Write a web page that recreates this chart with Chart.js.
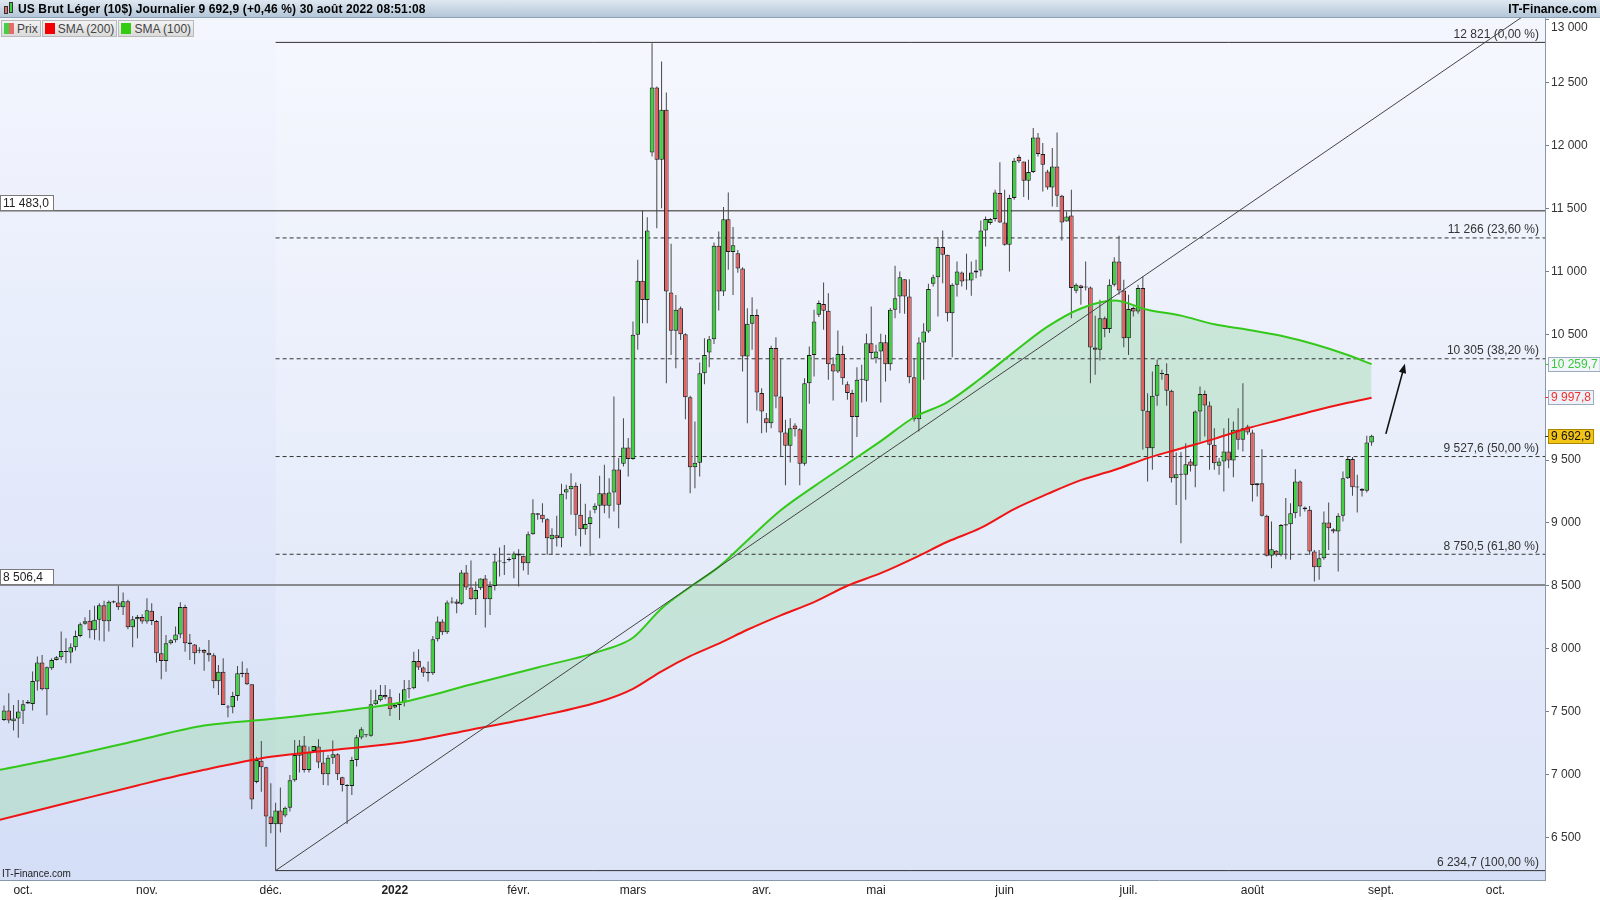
<!DOCTYPE html>
<html>
<head>
<meta charset="utf-8">
<script src="https://cdn.jsdelivr.net/npm/chart.js@4.4.0/dist/chart.umd.min.js"></script>
<style>
  html, body { margin: 0; padding: 0; background: #fff; }
  #wrap { position: relative; width: 1600px; height: 900px; overflow: hidden; font-family: "Liberation Sans", Arial, sans-serif; }
  #hdr { position: absolute; left: 0; top: 0; width: 1600px; height: 18px; box-sizing: border-box;
         background: linear-gradient(#dfe8f1, #b3c6d8); border-bottom: 1px solid #8ea2b6;
         font-weight: bold; font-size: 12px; line-height: 19px; color: #000; }
  #hdr .t { position: absolute; left: 18px; top: 0; letter-spacing: 0.12px; }
  #hdr .r { position: absolute; right: 3px; top: 0; letter-spacing: 0.1px; }
  #hdr .ic { position: absolute; top: 4px; width: 4px; height: 9px; box-sizing: border-box; border: 1px solid #333; }
  #leg { position: absolute; left: 1px; top: 20px; height: 17px; display: flex; font-size: 12px; color: #444; }
  #leg div { height: 17px; box-sizing: border-box; border: 1px solid #b9b9b9; background: linear-gradient(#f2f2f2, #dadada);
             display: flex; align-items: center; padding: 0 2px 0 2px; margin-right: 1px; }
  #leg span.sq { display: inline-block; width: 10px; height: 11px; margin-right: 3px; }
  canvas { position: absolute; left: 0; top: 0; }
</style>
</head>
<body>
<div id="wrap">
  <canvas id="c" width="1600" height="900"></canvas>
  <div id="hdr">
    <span class="ic" style="left:4px;background:#e86a6a;top:6px;height:8px"></span>
    <span class="ic" style="left:9px;background:#44d044;top:2px;height:11px"></span>
    <span class="t">US Brut Léger (10$) Journalier 9 692,9 (+0,46 %) 30 août 2022 08:51:08</span>
    <span class="r">IT-Finance.com</span>
  </div>
  <div id="leg">
    <div><span class="sq" style="width:5px;margin-right:0;background:#44d044"></span><span class="sq" style="width:5px;background:#e86a6a"></span>Prix</div>
    <div><span class="sq" style="background:#f00000"></span>SMA (200)</div>
    <div><span class="sq" style="background:#33cc11"></span>SMA (100)</div>
  </div>
</div>
<script>
// month ticks (candle index of first session of each month)
const monthIdx = [4, 30, 56, 82, 108, 132, 159, 183, 210, 236, 262, 289, 313];
const monthLabels = ['oct.', 'nov.', 'déc.', '2022', 'févr.', 'mars', 'avr.', 'mai', 'juin', 'juil.', 'août', 'sept.', 'oct.'];
const priceTicks = [6500, 7000, 7500, 8000, 8500, 9000, 9500, 10000, 10500, 11000, 11500, 12000, 12500, 13000];

// daily candles, late sept. 2021 -> 30 août 2022
const openP = [
  7433,7507,7423,7444,7505,7576,7560,7738,7889,7677,
  7844,7910,7932,7982,7969,8011,8101,8197,8221,8146,
  8229,8345,8218,8367,8367,8329,8377,8170,8234,8252,
  8215,8302,8220,7963,7902,8043,8066,8112,8332,8048,
  8032,7990,7990,7968,7947,7740,7817,7539,7533,7624,
  7809,7809,7716,6939,7109,7056,6664,6603,6712,6672,
  6735,6953,7149,7229,7035,7186,7221,7094,7001,7133,
  7160,6977,6916,6908,7115,7293,7311,7308,7558,7589,
  7632,7613,7531,7552,7571,7677,7685,7902,7849,7814,
  7804,8074,8215,8130,8374,8374,8356,8605,8486,8393,
  8480,8557,8393,8499,8692,8684,8705,8710,8756,8738,
  8679,8910,9064,9064,9029,8870,8902,8878,9241,9268,
  9295,9064,8950,8992,9104,9136,9236,9136,9241,9424,
  9470,9600,9507,10496,10926,10773,11946,12463,11887,12285,
  10832,10527,10707,10500,9999,9442,9479,10190,10354,10461,
  11203,10840,11415,11155,11145,11023,10323,10583,10654,10032,
  9833,9793,10390,10005,9719,9613,9775,9745,9470,10111,
  10336,10655,10740,10687,10262,10204,10342,10103,10032,9841,
  10138,10130,10428,10310,10363,10437,10262,10694,10800,10938,
  10800,10159,9824,10435,10522,10901,10954,11193,11132,10668,
  10893,10991,10928,10928,10991,11007,11326,11384,11416,11623,
  11389,11211,11583,11909,11874,11721,11790,12065,11933,11795,
  11668,11835,11601,11397,11445,10846,10888,10872,10872,10395,
  10376,10628,10541,10893,11079,10848,10469,10708,10681,10867,
  9891,9594,10011,10191,10183,10050,9355,9382,9382,9488,
  9454,9886,10024,9934,9621,9454,9488,9568,9496,9740,
  9661,9767,9719,9300,9316,9056,8738,8778,8746,8979,
  8990,9077,9329,9122,9104,8772,8647,8719,9003,8950,
  8931,9056,9355,9507,9282,9271,9255,9639
];
const highP = [
  7547,7645,7552,7592,7592,7592,7818,7937,7950,7857,
  7924,7942,8136,8083,8043,8144,8207,8250,8308,8340,
  8361,8380,8383,8383,8499,8446,8388,8260,8268,8274,
  8401,8361,8228,8260,8109,8074,8175,8369,8348,8117,
  8037,8011,7995,8069,7963,7870,7923,7552,7658,7862,
  7897,7844,7716,7141,7266,7061,6929,6775,6895,6745,
  6995,7274,7274,7306,7221,7226,7279,7181,7155,7269,
  7168,6982,6924,7141,7314,7375,7319,7672,7672,7711,
  7711,7677,7565,7645,7751,7751,7976,7995,7857,7897,
  8101,8255,8234,8382,8409,8393,8626,8666,8700,8533,
  8557,8586,8533,8753,8804,8825,8727,8772,8790,8738,
  8931,9188,9077,9157,9037,8958,9056,9311,9303,9395,
  9321,9311,9152,9098,9157,9374,9462,9355,10005,9515,
  9833,9674,10602,11093,11484,11431,12815,12470,12670,12423,
  11219,10813,10720,10508,10010,9806,10275,10469,10487,11230,
  11317,11511,11627,11352,11170,11033,10707,10795,10699,10071,
  9873,10408,10477,10310,9820,9833,9793,9753,10151,10403,
  10695,10769,10912,10827,10318,10530,10408,10124,10058,10238,
  10257,10504,10721,10416,10504,10496,10708,11044,11000,10938,
  10938,10310,10477,10588,10901,10973,11273,11325,11132,10906,
  11079,10999,11140,11079,11092,11405,11437,11424,11649,11867,
  11649,11609,11901,11927,11874,11888,12140,12100,12020,11808,
  11981,12105,11609,11477,11649,10906,10893,11079,10880,10647,
  10774,10641,10938,11113,11283,10933,10814,10721,10893,10960,
  10031,10204,10300,10217,10270,10058,9560,9563,9634,9507,
  9894,10085,10053,9966,9753,9515,9753,9833,9806,9912,
  10111,9780,9740,9316,9586,9064,9011,8785,8992,9197,
  9157,9427,9337,9130,9135,8785,8785,9090,9162,8958,
  9077,9409,9528,9523,9382,9276,9692,9700
];
const lowP = [
  7425,7407,7348,7292,7401,7560,7507,7666,7666,7470,
  7831,7905,7910,7884,7884,7985,8091,8189,8083,8070,
  8064,8056,8136,8361,8308,8268,8154,8011,8083,8197,
  8197,8188,7889,7756,7817,8032,8048,8082,7976,7910,
  7876,7963,7825,7897,7685,7632,7552,7454,7486,7586,
  7772,7711,6722,6929,6862,6425,6531,6235,6537,6660,
  6704,6942,7014,7014,7014,7178,7048,6916,6911,7083,
  6956,6863,6605,6836,7062,7279,7295,7300,7552,7579,
  7597,7465,7526,7432,7539,7605,7677,7830,7777,7738,
  7791,8056,8109,8117,8356,8281,8348,8467,8388,8268,
  8467,8167,8268,8462,8573,8586,8692,8560,8494,8621,
  8587,8905,9024,9003,8746,8746,8812,8807,9188,9064,
  8897,8812,8905,8738,9077,8878,9077,9037,9090,8958,
  9449,9369,9502,10377,10588,10588,11914,11343,11503,10110,
  10336,10230,10455,9824,9235,9275,9368,10103,10238,10423,
  10688,10805,11012,10813,10990,10203,9792,10376,9893,9713,
  9718,9753,9912,9528,9300,9480,9687,9300,9454,9947,
  10164,10637,10536,10138,9973,10191,10098,9979,9515,9682,
  9958,9966,10310,10270,9958,10124,10212,10628,10668,10663,
  10111,9806,9726,10138,10509,10880,10641,10906,10602,10318,
  10800,10880,10853,10806,10946,10960,11198,11371,11397,11384,
  11203,10999,11570,11861,11591,11570,11782,11914,11636,11649,
  11516,11511,11246,11397,10628,10827,10734,10848,10111,10177,
  10291,10477,10509,10880,10814,10397,10336,10641,10663,9581,
  9329,9422,9931,10138,9931,9321,9143,8838,9183,9409,
  9284,9647,9687,9422,9422,9382,9250,9435,9363,9581,
  9568,9700,9170,9210,9050,8732,8640,8732,8732,8711,
  8706,9037,9051,9090,8746,8533,8547,8706,8785,8918,
  8613,9011,9348,9215,9082,9210,9242,9613
];
const closeP = [
  7507,7428,7444,7499,7558,7563,7743,7889,7677,7852,
  7910,7932,7982,7974,8011,8101,8194,8218,8146,8229,
  8345,8218,8372,8377,8329,8377,8170,8234,8252,8215,
  8305,8220,7963,7902,8043,8066,8112,8332,8043,8037,
  7963,7984,7968,7947,7740,7817,7552,7531,7624,7804,
  7798,7716,6801,7114,7056,6664,6605,6712,6603,6735,
  6953,7155,7229,7035,7176,7226,7094,7001,7133,7160,
  7001,6916,6908,7115,7295,7359,7311,7558,7589,7632,
  7613,7518,7552,7560,7677,7685,7902,7849,7809,7804,
  8074,8215,8130,8366,8366,8356,8605,8486,8393,8467,
  8557,8393,8499,8692,8692,8679,8710,8756,8740,8679,
  8910,9077,9077,9029,8878,8905,8878,9231,9268,9295,
  9064,8950,8992,9045,9136,9236,9136,9241,9424,9144,
  9600,9507,10496,10926,10773,11325,12463,11887,12285,10840,
  10527,10694,10500,9999,9442,9479,10190,10336,10461,11203,
  10840,11415,11155,11208,11023,10323,10583,10654,10036,9886,
  9793,10390,10005,9719,9613,9753,9745,9470,10111,10336,
  10602,10748,10687,10262,10204,10342,10151,10032,9841,10138,
  10138,10428,10350,10363,10437,10262,10694,10787,10954,10800,
  10159,9824,10435,10522,10859,10954,11193,11132,10668,10893,
  10999,10920,10928,10991,11007,11326,11416,11416,11628,11389,
  11211,11583,11880,11875,11721,11790,12065,11933,11848,11668,
  11835,11601,11389,11437,10867,10893,10867,10872,10395,10376,
  10628,10541,10893,11079,10848,10469,10700,10681,10867,9891,
  9594,10011,10257,10183,10050,9355,9387,9382,9467,9454,
  9886,10024,9934,9621,9475,9488,9568,9496,9740,9661,
  9753,9719,9302,9316,9056,8738,8791,8746,8984,8990,
  9077,9329,9130,9109,8772,8647,8719,9003,8958,8931,
  9056,9355,9507,9284,9282,9255,9639,9693
];

// moving averages at these candle positions
const smaIdx = [-1, 14, 28, 42, 56, 70, 84, 98, 112, 126, 132, 138, 144, 150, 156, 163, 170, 177, 184, 191, 198, 205, 212, 219, 226, 233, 240, 247, 254, 261, 268, 275, 282, 287];
const sma100 = [7035, 7150, 7270, 7388, 7440, 7500, 7578, 7715, 7850, 7990, 8087, 8320, 8490, 8650, 8860, 9100, 9290, 9470, 9650, 9840, 9960, 10150, 10360, 10560, 10705, 10768, 10695, 10648, 10579, 10536, 10488, 10420, 10335, 10262];
const sma200 = [6638, 6780, 6912, 7036, 7140, 7198, 7255, 7355, 7460, 7590, 7680, 7820, 7940, 8040, 8150, 8265, 8370, 8500, 8600, 8720, 8850, 8960, 9110, 9230, 9340, 9420, 9515, 9592, 9668, 9752, 9822, 9892, 9955, 9995];

// retracement
const fibStart = 57;
const fibLevels = [12821, 11266, 10305, 9527.6, 8750.5, 6234.7];
const fibLabels = ['12 821 (0,00 %)', '11 266 (23,60 %)', '10 305 (38,20 %)', '9 527,6 (50,00 %)', '8 750,5 (61,80 %)', '6 234,7 (100,00 %)'];
const fibDashed = [false, true, true, true, true, false];
const hLevels = [11483.0, 8506.4];
const hLabels = ['11 483,0', '8 506,4'];
const trendLine = [[57, 6234.7], [330, 13319]];
const arrowPts = [[290, 9708], [294, 10265]];
const lastVals = [10259.7, 9997.8, 9692.9];
const lastLabels = ['10 259,7', '9 997,8', '9 692,9'];

const FONT = '"Liberation Sans", Arial, sans-serif';
const X_MIN = -0.84, X_MAX = 323.4, Y_MIN = 6160, Y_MAX = 13015;

function fmt(v) { return String(v).replace(/\B(?=(\d{3})+(?!\d))/g, ' '); }

const idx = closeP.map((_, i) => i);
const wicks = idx.map(i => ({ x: i, y: [lowP[i], highP[i]] }));
const bodies = idx.map(i => ({ x: i, y: [openP[i], closeP[i]] }));
const bodyColors = idx.map(i => closeP[i] >= openP[i] ? '#3cd23c' : '#e65f5f');

const datasets = [
  { type: 'line', label: 'SMA (100)', data: smaIdx.map((x, i) => ({ x, y: sma100[i] })), borderColor: '#33c81a', borderWidth: 2,
    pointRadius: 0, cubicInterpolationMode: 'monotone', fill: { target: 1 }, backgroundColor: 'rgba(160,220,175,0.45)', order: 2 },
  { type: 'line', label: 'SMA (200)', data: smaIdx.map((x, i) => ({ x, y: sma200[i] })), borderColor: '#f01414', borderWidth: 2,
    pointRadius: 0, cubicInterpolationMode: 'monotone', fill: false, order: 3 },
  { type: 'line', data: trendLine.map(p => ({ x: p[0], y: p[1] })), borderColor: '#444', borderWidth: 1, pointRadius: 0, fill: false, order: 1 },
  { type: 'bar', data: bodies, backgroundColor: bodyColors, borderColor: '#1c1c1c', borderWidth: 1, barThickness: 4.6,
    grouped: false, minBarLength: 1, inflateAmount: 0, borderSkipped: false, order: 5 },
  { type: 'bar', data: wicks, backgroundColor: '#474747', borderWidth: 0, barThickness: 1, grouped: false, inflateAmount: 0, order: 6 }
];
fibLevels.forEach((v, k) => {
  datasets.push({ type: 'line', data: [{ x: fibStart, y: v }, { x: 330, y: v }], borderColor: '#333', borderWidth: 1,
    borderDash: fibDashed[k] ? [4, 3] : [], pointRadius: 0, fill: false, order: 10 });
});
hLevels.forEach(v => {
  datasets.push({ type: 'line', data: [{ x: -2, y: v }, { x: 330, y: v }], borderColor: '#6a6a6a', borderWidth: 1.5,
    pointRadius: 0, fill: false, order: 10 });
});

function box(ctx, x, y, w, h, bg, border) {
  ctx.fillStyle = bg; ctx.fillRect(x, y, w, h);
  ctx.strokeStyle = border; ctx.lineWidth = 1; ctx.strokeRect(x + 0.5, y + 0.5, w - 1, h - 1);
}

const deco = {
  id: 'deco',
  beforeDraw(chart) {
    const { ctx, chartArea: a, scales: { x, y } } = chart;
    ctx.save();
    const g = ctx.createLinearGradient(0, a.top, 0, a.bottom);
    g.addColorStop(0, '#f4f6fe');
    g.addColorStop(1, '#d4def6');
    ctx.fillStyle = g;
    ctx.fillRect(a.left, a.top, a.right - a.left, a.bottom - a.top);
    const x0 = x.getPixelForValue(fibStart);
    const yt = y.getPixelForValue(fibLevels[0]), yb = y.getPixelForValue(fibLevels[5]);
    ctx.fillStyle = 'rgba(255,255,255,0.2)';
    ctx.fillRect(x0, yt, a.right - x0, yb - yt);
    ctx.restore();
  },
  afterDraw(chart) {
    const { ctx, chartArea: a, scales: { x, y } } = chart;
    ctx.save();
    ctx.font = '12px ' + FONT;
    ctx.textBaseline = 'middle';

    // retracement labels
    ctx.fillStyle = '#333';
    ctx.textAlign = 'right';
    fibLevels.forEach((v, k) => ctx.fillText(fibLabels[k], a.right - 6, y.getPixelForValue(v) - 8));

    // left level boxes
    ctx.textAlign = 'left';
    hLevels.forEach((v, k) => {
      const py = Math.round(y.getPixelForValue(v));
      box(ctx, 0, py - 16, 54, 16, '#fff', '#7a7a7a');
      ctx.fillStyle = '#222';
      ctx.fillText(hLabels[k], 3, py - 7.5);
    });

    // right axis labels
    ctx.fillStyle = '#333';
    y.ticks.forEach(t => {
      const py = Math.max(y.getPixelForValue(t.value), a.top + 10);
      ctx.fillText(fmt(t.value), a.right + 6, py);
    });

    // last value boxes
    const styles = [
      { bg: '#f2f6fa', border: '#9aabbd', color: '#3cc83c', tick: '#3cc83c' },
      { bg: '#eef2f8', border: '#9aabbd', color: '#f03030', tick: '#f03030' },
      { bg: '#f2c417', border: '#a88600', color: '#111', tick: '#333' }
    ];
    lastVals.forEach((v, k) => {
      const py = Math.round(y.getPixelForValue(v));
      const s = styles[k];
      const w = ctx.measureText(lastLabels[k]).width + 6;
      ctx.strokeStyle = s.tick; ctx.lineWidth = 1;
      ctx.beginPath(); ctx.moveTo(a.right, py + 0.5); ctx.lineTo(a.right + 4, py + 0.5); ctx.stroke();
      box(ctx, a.right + 3, py - 7, w, 15, s.bg, s.border);
      ctx.fillStyle = s.color;
      ctx.fillText(lastLabels[k], a.right + 6, py + 0.5);
    });

    // arrow
    const ax0 = x.getPixelForValue(arrowPts[0][0]), ay0 = y.getPixelForValue(arrowPts[0][1]);
    const ax1 = x.getPixelForValue(arrowPts[1][0]), ay1 = y.getPixelForValue(arrowPts[1][1]);
    const ang = Math.atan2(ay1 - ay0, ax1 - ax0);
    ctx.strokeStyle = '#111'; ctx.fillStyle = '#111'; ctx.lineWidth = 1.6;
    ctx.beginPath(); ctx.moveTo(ax0, ay0);
    ctx.lineTo(ax1 - 6 * Math.cos(ang), ay1 - 6 * Math.sin(ang)); ctx.stroke();
    ctx.beginPath();
    ctx.moveTo(ax1, ay1);
    ctx.lineTo(ax1 - 10 * Math.cos(ang - 0.38), ay1 - 10 * Math.sin(ang - 0.38));
    ctx.lineTo(ax1 - 10 * Math.cos(ang + 0.38), ay1 - 10 * Math.sin(ang + 0.38));
    ctx.closePath(); ctx.fill();

    // watermark
    ctx.font = '10px ' + FONT;
    ctx.fillStyle = '#222';
    ctx.textAlign = 'left';
    ctx.fillText('IT-Finance.com', 2, a.bottom - 6);
    ctx.restore();
  }
};

new Chart(document.getElementById('c'), {
  type: 'bar',
  data: { datasets },
  options: {
    responsive: false,
    animation: false,
    devicePixelRatio: 1,
    layout: { padding: { top: 18, left: 0, right: 0, bottom: 0 }, autoPadding: false },
    plugins: { legend: { display: false }, tooltip: { enabled: false }, filler: { drawTime: 'beforeDatasetsDraw' } },
    scales: {
      x: {
        type: 'linear', min: X_MIN, max: X_MAX, offset: false,
        grid: { display: false, drawTicks: false, tickLength: 0 },
        border: { display: true, color: '#8898aa' },
        afterBuildTicks: s => { s.ticks = monthIdx.map(v => ({ value: v })); },
        afterFit: s => { s.height = 20; },
        ticks: {
          autoSkip: false, maxRotation: 0, padding: 3, color: '#222',
          font: c => ({ family: FONT, size: 12, weight: c.index === 3 ? 'bold' : 'normal' }),
          callback: (v, i) => monthLabels[i]
        }
      },
      y: {
        type: 'linear', position: 'right', min: Y_MIN, max: Y_MAX,
        afterBuildTicks: s => { s.ticks = priceTicks.map(v => ({ value: v })); },
        afterFit: s => { s.width = 55; },
        grid: { drawOnChartArea: false, drawTicks: true, tickLength: 4, color: '#6f7f90' },
        border: { display: true, color: '#8898aa' },
        ticks: { display: false }
      }
    }
  },
  plugins: [deco]
});
</script>
</body>
</html>
